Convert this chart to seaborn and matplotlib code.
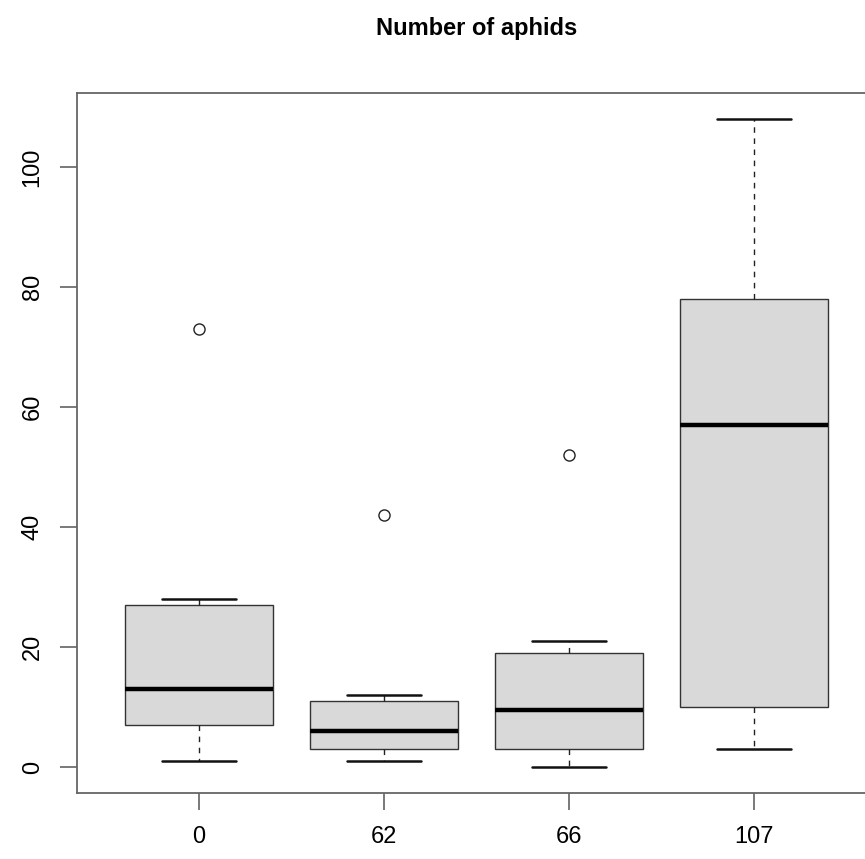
import pandas as pd
import matplotlib.pyplot as plt
import seaborn as sns

# aphid counts per group
groups = ["0", "62", "66", "107"]
aphids_0 = [1, 4, 7, 10, 13, 20, 27, 28, 73]
aphids_62 = [1, 2, 3, 5, 6, 8, 11, 12, 42]
aphids_66 = [0, 2, 3, 3, 9, 10, 19, 19, 21, 52]
aphids_107 = [3, 6, 10, 30, 57, 65, 78, 95, 108]

rows = []
for g, vals in zip(groups, [aphids_0, aphids_62, aphids_66, aphids_107]):
    for v in vals:
        rows.append({"group": g, "aphids": v})
df = pd.DataFrame(rows)

sns.set_style("ticks")
plt.rcParams["font.family"] = ["Liberation Sans", "DejaVu Sans"]
plt.rcParams["text.color"] = "black"
plt.rcParams["xtick.color"] = "black"
plt.rcParams["ytick.color"] = "black"

fig = plt.figure(figsize=(8.65, 8.59), dpi=100)
ax = fig.add_axes([0.089, 0.0768, 0.924, 0.815])

sns.boxplot(
    data=df, x="group", y="aphids", order=groups, ax=ax,
    color="#d9d9d9", saturation=1, width=0.8, whis=1.5,
    linecolor="#222222", linewidth=1,
    boxprops={"edgecolor": "#333333", "linewidth": 1},
    whiskerprops={"linestyle": (0, (4, 4)), "color": "#222222", "linewidth": 1},
    capprops={"color": "#111111", "linewidth": 1.8},
    medianprops={"color": "black", "linewidth": 3.2},
    flierprops={"marker": "o", "markersize": 8, "markerfacecolor": "none",
                "markeredgecolor": "#222222", "markeredgewidth": 1},
)

ax.set_xlim(-0.66, 3.66)
ax.set_ylim(-4.32, 112.32)
ax.set_yticks([0, 20, 40, 60, 80, 100])
ax.set_yticklabels(["0", "20", "40", "60", "80", "100"], rotation=90, va="center")
ax.tick_params(axis="both", direction="out", length=12, width=1.1,
               color="#555555", labelcolor="black", labelsize=17, pad=12,
               bottom=True, left=True)
ax.set_xlabel("")
ax.set_ylabel("")
for s in ax.spines.values():
    s.set_visible(True)
    s.set_color("#666666")
    s.set_linewidth(1.3)

ax.set_title("Number of aphids", fontsize=17, fontweight="bold", pad=42, color="black")

fig.savefig("out.png", dpi=100)
